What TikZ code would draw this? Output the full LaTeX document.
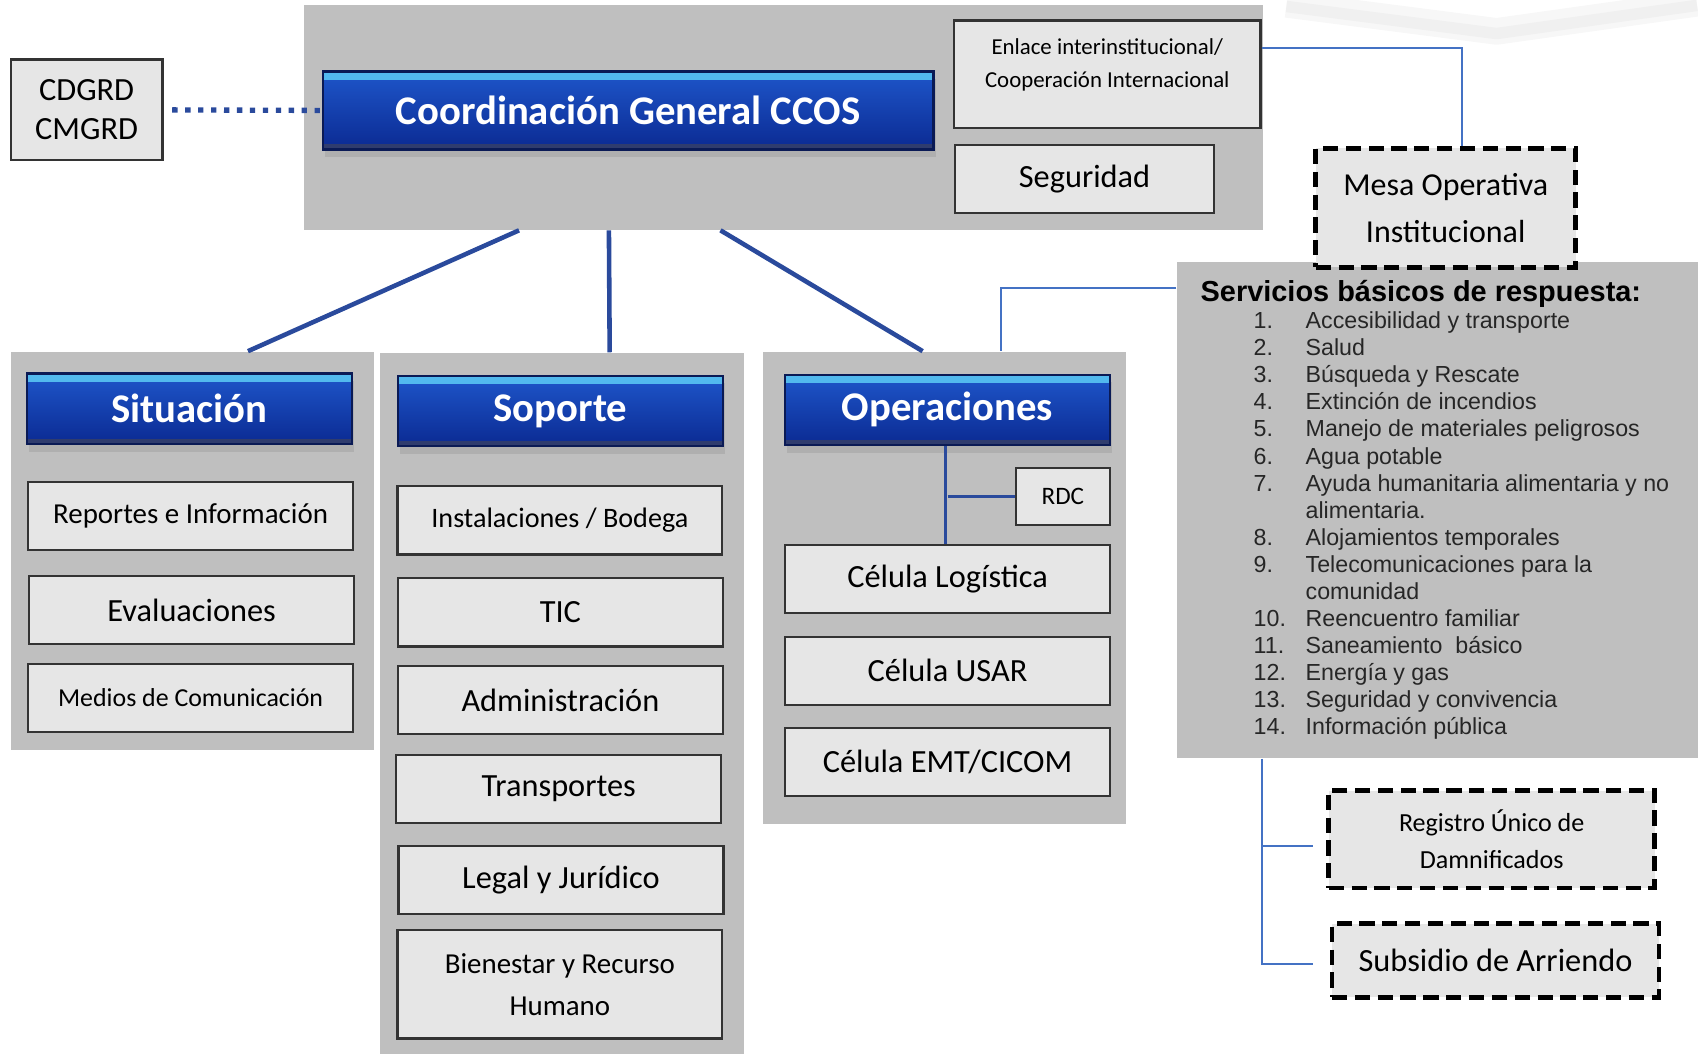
\documentclass[tikz,border=0pt]{standalone}
\usepackage{fontspec}
\setmainfont{Carlito}
\newfontfamily\arialfont{Liberation Sans}
\usetikzlibrary{shadows}

\definecolor{panelgray}{HTML}{BFBFBF}
\definecolor{cellgray}{HTML}{E6E6E6}
\definecolor{bartop}{HTML}{1E56CA}
\definecolor{barbot}{HTML}{0B2A92}
\definecolor{barhi}{HTML}{52B9EE}
\definecolor{baredge}{HTML}{0A1A55}
\definecolor{linkblue}{HTML}{4472C4}
\definecolor{stemblue}{HTML}{2A4A9C}

\tikzset{
  panel/.style={fill=panelgray, inner sep=0pt},
  cell/.style={draw=black!80, line width=0.6pt, fill=cellgray, align=center,
    inner sep=0pt, font=\fontsize{8.5}{12}\selectfont},
  dashcell/.style={cell, draw=black, line width=1.3pt, dash pattern=on 4pt off 2pt},
  bluebar/.style={draw=baredge, line width=0.6pt, top color=bartop, bottom color=barbot,
    text=white, inner sep=0pt, font=\bfseries\fontsize{10.7}{12}\selectfont,
    minimum width=30mm, minimum height=6.5mm,
    drop shadow={opacity=0.25, shadow xshift=0.2mm, shadow yshift=-0.7mm},
    path picture={
      \fill[barhi] (path picture bounding box.north west)
        rectangle ([yshift=-0.8mm]path picture bounding box.north east);
      \fill[baredge!85] (path picture bounding box.south west)
        rectangle ([yshift=0.5mm]path picture bounding box.south east);}},
  svcitem/.style={inner sep=0pt, text=black!85, font=\arialfont\fontsize{6.1}{7}\selectfont},
  stem/.style={stemblue, line width=1.2pt},
  link/.style={linkblue, line width=0.5pt},
  innerlink/.style={stemblue, line width=0.6pt},
  dots/.style={stemblue, line width=1.4pt, dash pattern=on 1.4pt off 2pt},
}

\begin{document}
\begin{tikzpicture}[x=0.1mm, y=-0.1mm]
    \useasboundingbox (0,0) rectangle (1568,973);

    % faint shadow at the top right
    \draw[gray!6, line width=7pt, line join=round] (1188,4) -- (1382,29) -- (1567,3);
    \draw[gray!12, line width=3pt, line join=round] (1188,6) -- (1382,31) -- (1567,5);

    % Gray panels
    \node[panel, minimum width=88.5mm, minimum height=20.7mm] (toppanel) at (723.5,108.5) {};
    \node[panel, minimum width=33.5mm, minimum height=36.8mm] (sitpanel) at (177.5,509) {};
    \node[panel, minimum width=33.6mm, minimum height=64.7mm] (suppanel) at (519,649.5) {};
    \node[panel, minimum width=33.5mm, minimum height=43.6mm] (opspanel) at (872.5,543) {};
    \node[panel, minimum width=48.1mm, minimum height=45.8mm] (svcpanel) at (1327.5,471) {};

    % Top level
    \node[cell, minimum width=14mm, minimum height=9.3mm,
      font=\fontsize{8.5}{10.2}\selectfont] (cdgrd) at (80,101.5) {CDGRD\\CMGRD};
    \node[bluebar, minimum width=56.4mm, minimum height=7.2mm] (coordbar) at (580,102)
      {Coordinación General CCOS};
    \node[cell, minimum width=28.3mm, minimum height=9.9mm] (enlace) at (1022.5,68.5) {};
    \node[align=center, inner sep=0pt, font=\fontsize{6}{8.5}\selectfont] (enlacetxt)
      at (1022.5,60) {Enlace interinstitucional/\\Cooperación Internacional};
    \node[cell, minimum width=23.9mm, minimum height=6.3mm] (seguridad) at (1001.5,165.5) {Seguridad};
    \node[dashcell, minimum width=24mm, minimum height=11mm,
      font=\fontsize{8.4}{12.2}\selectfont] (mesa) at (1335,192) {Mesa Operativa\\Institucional};

    \draw[dots] ([xshift=0.8mm]cdgrd.east) -- (coordbar.west);
    \draw[link] ([yshift=2.45mm]enlace.east) -| ([xshift=1.5mm]mesa.north);

    % Situacion
    \node[bluebar] (sitbar) at (175,377.5) {Situación};
    \node[cell, minimum width=30mm, minimum height=6.3mm, font=\fontsize{7.6}{9}\selectfont]
      (reportes) at (176,476.5) {Reportes e Información};
    \node[cell, minimum width=30mm, minimum height=6.3mm] (evaluaciones) at (177,563.5) {Evaluaciones};
    \node[cell, minimum width=30mm, minimum height=6.3mm, font=\fontsize{6.8}{8}\selectfont]
      (medios) at (176,644.5) {Medios de Comunicación};

    % Soporte
    \node[bluebar] (supbar) at (517.5,379.5) {Soporte};
    \node[cell, minimum width=30mm, minimum height=6.3mm, font=\fontsize{7.4}{9}\selectfont]
      (instalaciones) at (517,480.5) {Instalaciones / Bodega};
    \node[cell, minimum width=30mm, minimum height=6.3mm] (tic) at (517.5,565.5) {TIC};
    \node[cell, minimum width=30mm, minimum height=6.3mm] (admin) at (517.5,646.5) {Administración};
    \node[cell, minimum width=30mm, minimum height=6.3mm] (transportes) at (516,728.5) {Transportes};
    \node[cell, minimum width=30mm, minimum height=6.3mm] (legal) at (518,812.5) {Legal y Jurídico};
    \node[cell, minimum width=30mm, minimum height=10mm, font=\fontsize{7.6}{11}\selectfont]
      (bienestar) at (517,909) {Bienestar y Recurso\\Humano};

    % Operaciones
    \node[bluebar] (opsbar) at (875,378.5) {Operaciones};
    \node[cell, minimum width=8.7mm, minimum height=5.3mm, font=\fontsize{6.6}{8}\selectfont]
      (rdc) at (981.5,458.5) {RDC};
    \node[cell, minimum width=30mm, minimum height=6.3mm] (logistica) at (875,534.5) {Célula Logística};
    \node[cell, minimum width=30mm, minimum height=6.3mm] (usar) at (875,619.5) {Célula USAR};
    \node[cell, minimum width=30mm, minimum height=6.3mm] (emt) at (875,703.5) {Célula EMT/CICOM};

    \draw[innerlink] ([xshift=-0.2mm]opsbar.south) -- ([xshift=-0.2mm]logistica.north);
    \draw[innerlink] (opsbar.south |- rdc.west) -- (rdc.west);

    % Stems from the top panel
    \draw[stem] ([xshift=19.9mm]toppanel.south west) -- ([xshift=5.15mm]sitpanel.north);
    \draw[stem] ([xshift=28.2mm]toppanel.south west) -- ([xshift=4.4mm]suppanel.north);
    \draw[stem] ([xshift=38.5mm]toppanel.south west) -- ([xshift=-2.05mm]opspanel.north);

    % Servicios basicos
    \node[anchor=west, inner sep=0pt, font=\arialfont\bfseries\fontsize{7.6}{9}\selectfont]
      (svctitle) at (1108,271) {Servicios básicos de respuesta:};
    \foreach \row/\item in {0/Accesibilidad y transporte, 1/Salud, 2/Búsqueda y Rescate,
        3/Extinción de incendios, 4/Manejo de materiales peligrosos, 5/Agua potable,
        6/Ayuda humanitaria alimentaria y no, 7/alimentaria., 8/Alojamientos temporales,
        9/Telecomunicaciones para la, 10/comunidad, 11/Reencuentro familiar,
        12/Saneamiento\ \ básico, 13/Energía y gas, 14/Seguridad y convivencia,
        15/Información pública}
      \node[svcitem, anchor=base west] (svcitem-\row) at (1205,303.5+25*\row) {\item};
    \foreach \row/\num in {0/1, 1/2, 2/3, 3/4, 4/5, 5/6, 6/7, 8/8, 9/9, 11/10, 12/11,
        13/12, 14/13, 15/14}
      \node[svcitem, anchor=base west] (svcnum-\row) at (1157,303.5+25*\row) {\num.};

    \draw[link] ([yshift=20.5mm]svcpanel.west) -| ([xshift=5.15mm]opspanel.north);

    % Registro / Subsidio
    \node[dashcell, minimum width=30.1mm, minimum height=9mm,
      font=\fontsize{6.85}{9.7}\selectfont] (registro) at (1377.5,775) {Registro Único de\\Damnificados};
    \node[dashcell, minimum width=30.2mm, minimum height=6.8mm] (subsidio) at (1381,887) {Subsidio de Arriendo};

    \draw[link] ([xshift=7.9mm]svcpanel.south west) |- ([xshift=-1.2mm, yshift=-0.6mm]registro.west);
    \draw[link] ([xshift=7.9mm]svcpanel.south west) |- ([xshift=-1.5mm, yshift=-0.3mm]subsidio.west);
\end{tikzpicture}
\end{document}
